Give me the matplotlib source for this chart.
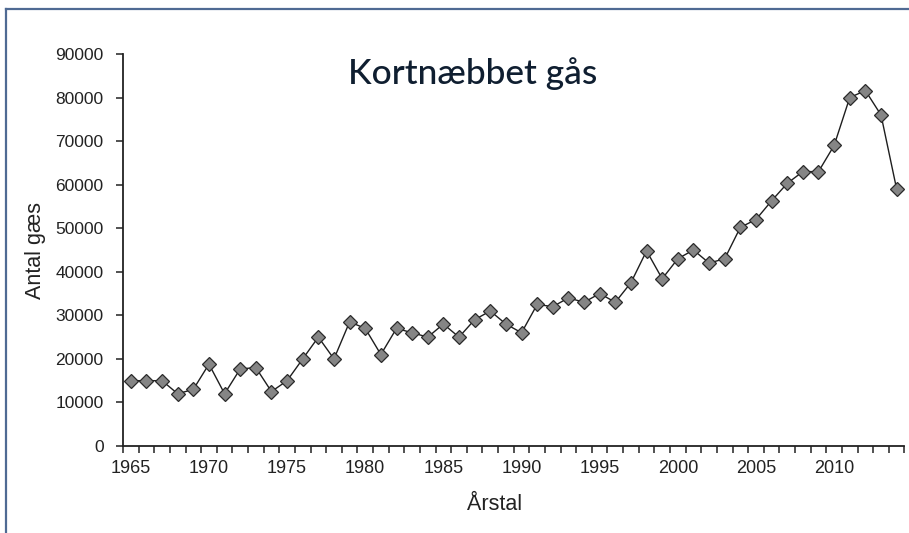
import matplotlib
matplotlib.use("Agg")
import matplotlib.pyplot as plt
from matplotlib.lines import Line2D

years = list(range(1965, 2015))
counts = [15000, 15000, 15000, 12000, 13000, 18800, 12000, 17700, 18000, 12500,
          15000, 20000, 25000, 20000, 28500, 27000, 21000, 27000, 26000, 25000,
          28000, 25000, 29000, 31000, 28000, 26000, 32500, 32000, 34000, 33000,
          35000, 33000, 37500, 44800, 38400, 43000, 45000, 42000, 43000, 50200,
          52000, 56300, 60300, 63000, 63000, 69000, 80000, 81600, 76000, 59000]
label_years = list(range(1965, 2011, 5))
y_ticks = list(range(0, 90001, 10000))

plt.rcParams["font.family"] = ["Liberation Sans", "DejaVu Sans"]

fig = plt.figure(figsize=(9.09, 5.33), dpi=100)
ax = fig.add_axes([0.1353, 0.1632, 0.8597, 0.7355])

ax.plot(years, counts, color="#1e1e1e", linewidth=1.0, marker="D",
        markersize=7, markerfacecolor="#858585", markeredgecolor="#2a2a2a",
        markeredgewidth=0.9)

ax.set_xlim(1964.5, 2014.5)
ax.set_ylim(0, 90000)

# category style axis: ticks between years, labels every 5 years
ax.set_xticks([y - 0.5 for y in years] + [2014.5])
ax.set_xticklabels([])
ax.set_xticks(label_years, minor=True)
ax.set_xticklabels([str(y) for y in label_years], minor=True)
ax.tick_params(axis="x", which="major", direction="out", length=5, width=1.1, color="#222222")
ax.tick_params(axis="x", which="minor", length=0, pad=10, labelsize=13, labelcolor="#222222")

ax.set_yticks(y_ticks)
ax.set_yticklabels([str(v) for v in y_ticks])
ax.tick_params(axis="y", direction="out", length=5, width=1.1, color="#222222",
               labelsize=12.5, labelcolor="#222222", pad=9)

for side in ["top", "right"]:
    ax.spines[side].set_visible(False)
for side in ["left", "bottom"]:
    ax.spines[side].set_linewidth(1.3)
    ax.spines[side].set_color("#222222")

ax.set_xlabel("Årstal", fontsize=15.5, color="#222222")
ax.xaxis.set_label_coords(0.476, -0.122)
ax.set_ylabel("Antal gæs", fontsize=15.5, color="#222222")
ax.yaxis.set_label_coords(-0.0985, 0.5)

fig.text(0.52, 0.862, "Kortnæbbet gås", ha="center", va="center",
         fontsize=25.5, color="#0f1e30", family=["Lato", "DejaVu Sans"], fontweight="medium")

# frame around the picture (only top and left visible in crop)
fig.add_artist(Line2D([0.0066, 0.0066], [0.0, 0.983], transform=fig.transFigure,
                      color="#4F6A93", linewidth=1.6))
fig.add_artist(Line2D([0.0066, 1.0], [0.983, 0.983], transform=fig.transFigure,
                      color="#4F6A93", linewidth=1.6))

fig.savefig("out.png", dpi=100, facecolor="white")
